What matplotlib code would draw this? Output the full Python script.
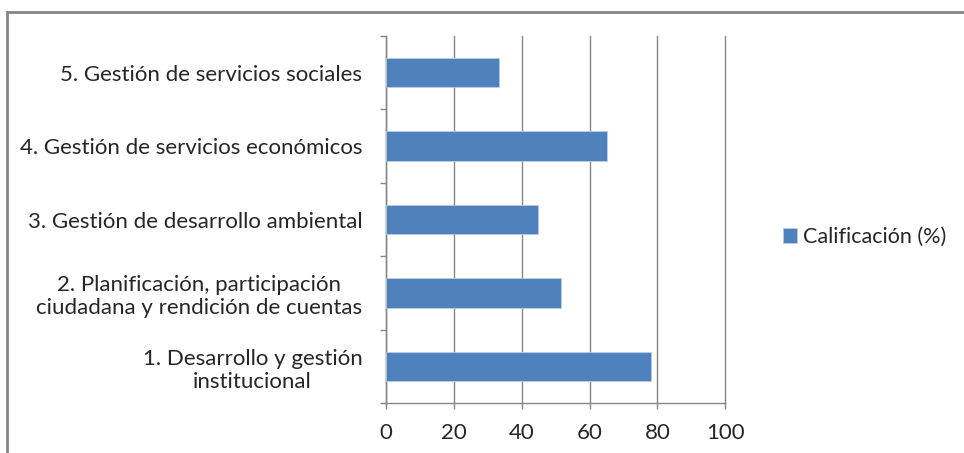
import matplotlib
matplotlib.use("Agg")
import matplotlib.pyplot as plt
import matplotlib.patches as patches
from matplotlib.ticker import FixedLocator, MultipleLocator

# Data (bottom to top)
categories = [
    "1. Desarrollo y gestión\ninstitucional",
    "2. Planificación, participación\nciudadana y rendición de cuentas",
    "3. Gestión de desarrollo ambiental",
    "4. Gestión de servicios económicos",
    "5. Gestión de servicios sociales",
]
scores = [78.1, 51.6, 44.7, 65.1, 33.4]
series_name = "Calificación (%)"

plt.rcParams["font.family"] = ["Lato", "DejaVu Sans"]
grey = "#868686"
text_col = "#262626"
bar_col = "#4F81BD"
fs = 16

fig = plt.figure(figsize=(9.64, 4.53), dpi=100)
ax = fig.add_axes([386 / 964, 1 - 403.3 / 453, (725.3 - 386) / 964, (403.3 - 36) / 453])

pos = list(range(len(categories)))
ax.barh(pos, scores, height=0.4, color=bar_col, edgecolor="#B9CDE5", linewidth=0.6,
        label=series_name, zorder=3)

ax.set_xlim(0, 100)
ax.set_ylim(-0.5, len(categories) - 0.5)
ax.xaxis.set_major_locator(MultipleLocator(20))
ax.grid(axis="x", color=grey, linewidth=1.0, zorder=0, clip_on=False)

for s in ["top", "right"]:
    ax.spines[s].set_visible(False)
for s in ["left", "bottom"]:
    ax.spines[s].set_color(grey)
    ax.spines[s].set_linewidth(1.0)

ax.set_yticks(pos)
ax.set_yticklabels(categories)
ax.yaxis.set_minor_locator(FixedLocator([p - 0.5 for p in pos] + [len(pos) - 0.5]))
ax.tick_params(axis="y", which="major", length=0, pad=17, labelsize=fs, labelcolor=text_col)
ax.tick_params(axis="y", which="minor", length=4, color=grey, width=1.0)
ax.tick_params(axis="x", which="major", length=4, color=grey, width=1.0, pad=10,
               labelsize=fs, labelcolor=text_col)
for lab in ax.get_yticklabels():
    lab.set_multialignment("center")

fig.legend(loc="center left", bbox_to_anchor=(774 / 964, 1 - 237 / 453), frameon=False,
           handlelength=0.65, handleheight=0.65, handletextpad=0.3, fontsize=15.5,
           labelcolor=text_col, borderaxespad=0)

# outer chart border
fig.add_artist(patches.Rectangle((7 / 964, -0.1), 1.2, 1 - 12 / 453 + 0.1,
                                 transform=fig.transFigure, fill=False,
                                 edgecolor=grey, linewidth=2.0))

fig.savefig("out.png", dpi=100, facecolor="white")
